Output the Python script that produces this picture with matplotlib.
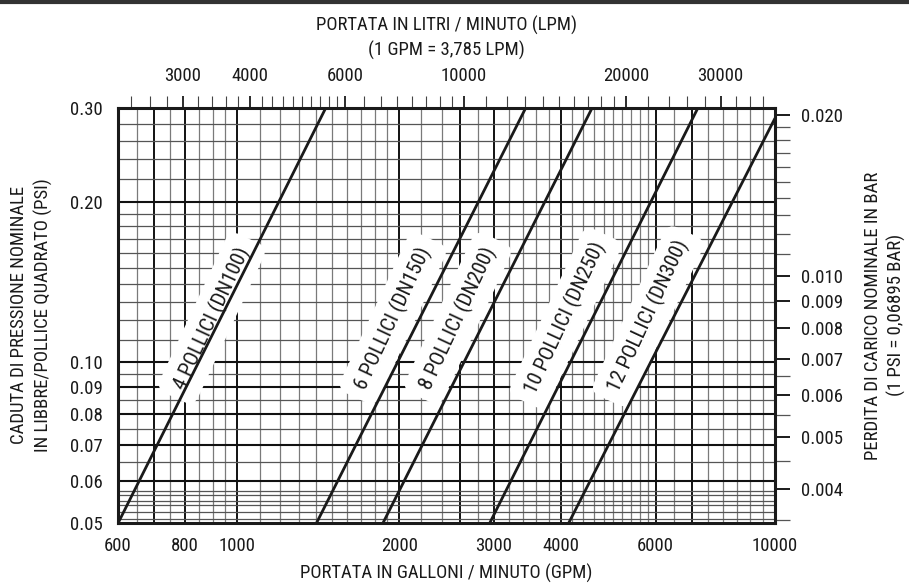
import numpy as np
import matplotlib
matplotlib.use("Agg")
import matplotlib.pyplot as plt
from matplotlib import font_manager
from matplotlib.ticker import FixedLocator, FixedFormatter, NullLocator, NullFormatter
from matplotlib.lines import Line2D

# the original uses a condensed grotesque; take a narrow face if one is installed
narrow = None
for f in font_manager.fontManager.ttflist:
    st = str(f.stretch).lower()
    if ('narrow' in f.name.lower() or 'condensed' in f.name.lower()
            or st in ('condensed', 'semi-condensed', 'extra-condensed', '300', '400')) \
            and 'mono' not in f.name.lower() and 'serif' not in f.name.lower() \
            and f.style == 'normal' and f.weight in (400, 'normal', 'regular'):
        narrow = f
        if 'liberation' in f.name.lower() or 'roboto' in f.name.lower():
            break
if narrow is not None:
    plt.rcParams['font.family'] = [narrow.name, 'DejaVu Sans']
    plt.rcParams['font.stretch'] = narrow.stretch
    FS = 13.5
else:
    plt.rcParams['font.family'] = ['Liberation Sans', 'DejaVu Sans']
    FS = 12.5

# pipe curves: flow (GPM) / pressure drop (PSI) at both ends of each line
pipe_labels = ["4 POLLICI (DN100)", "6 POLLICI (DN150)", "8 POLLICI (DN200)",
               "10 POLLICI (DN250)", "12 POLLICI (DN300)"]
flow_lo = [600, 1403, 1865, 2946, 4131]
flow_hi = [1462, 3442, 4574, 7195, 10000]
dp_lo = [0.05, 0.05, 0.05, 0.05, 0.05]
dp_hi = [0.30, 0.30, 0.30, 0.30, 0.2865]

# where the pipe names sit (GPM, PSI)
label_gpm = [897, 1948, 2572, 4072, 5806]
label_psi = [0.121, 0.121, 0.121, 0.121, 0.122]

# axis ticks
gpm_ticks = [600, 800, 1000, 2000, 3000, 4000, 6000, 10000]
psi_ticks = [0.05, 0.06, 0.07, 0.08, 0.09, 0.10, 0.20, 0.30]
lpm_ticks = [3000, 4000, 6000, 10000, 20000, 30000]
lpm_minor = [2400, 2600, 2800, 3200, 3400, 3600, 3800, 4200, 4400, 4600, 4800,
             5000, 5200, 5400, 5600, 5800, 6500, 7000, 7500, 8000, 8500, 9000,
             9500, 11000, 12000, 13000, 14000, 15000, 16000, 17000, 18000,
             19000, 22000, 24000, 26000, 28000, 32000, 34000, 36000]
bar_ticks = [0.004, 0.005, 0.006, 0.007, 0.008, 0.009, 0.010, 0.020]
bar_minor = [0.0035, 0.0045, 0.0055, 0.0065, 0.011, 0.012, 0.013, 0.014,
             0.015, 0.016, 0.017, 0.018, 0.019]

# grid lines
gpm_grid_bold = [700, 800, 1000, 2000, 2600, 3000, 4000, 6000, 7000]
gpm_grid_thin = [650, 750, 850, 900, 950, 1100, 1200, 1300, 1400, 1500, 1600,
                 1700, 1800, 1900, 2200, 2400, 2800, 3200, 3400, 3600, 3800,
                 4200, 4400, 4600, 4800, 5000, 5200, 5400, 5600, 5800, 6500,
                 7500, 8000, 8500, 9000, 9500]
psi_grid_bold = [0.06, 0.07, 0.08, 0.09, 0.10, 0.20]
psi_grid_thin = [0.051, 0.0525, 0.054, 0.055, 0.0565, 0.0575, 0.065, 0.075,
                 0.085, 0.095, 0.11, 0.12, 0.13, 0.14, 0.15, 0.16, 0.17, 0.18,
                 0.19, 0.22, 0.24, 0.26, 0.28]

fig = plt.figure(figsize=(9.09, 5.83), dpi=100)
ax = fig.add_axes([0.1298, 0.1024, 0.7228, 0.7132])
ax.set_xscale('log')
ax.set_yscale('log')
ax.set_xlim(600, 10000)
ax.set_ylim(0.05, 0.30)

for g in gpm_grid_thin:
    ax.axvline(g, color='#7a7a7a', lw=0.9, zorder=1)
for g in gpm_grid_bold:
    ax.axvline(g, color='#111111', lw=1.4, zorder=1)
for p in psi_grid_thin:
    ax.axhline(p, color='#555555', lw=0.9, zorder=1)
for p in psi_grid_bold:
    ax.axhline(p, color='#111111', lw=1.5, zorder=1)

for i in range(len(pipe_labels)):
    ax.plot([flow_lo[i], flow_hi[i]], [dp_lo[i], dp_hi[i]], color='#1a1a1a',
            lw=2.0, zorder=4, solid_capstyle='butt')
    ax.text(label_gpm[i], label_psi[i], pipe_labels[i], rotation=65,
            rotation_mode='anchor', ha='center', va='center', fontsize=FS + 1.5,
            color='#1a1a1a', zorder=3,
            bbox=dict(boxstyle='round,pad=0.5', fc='white', ec='none'))

for s in ax.spines.values():
    s.set_linewidth(2.2)
    s.set_color('#1a1a1a')
    s.set_zorder(5)

ax.xaxis.set_major_locator(FixedLocator(gpm_ticks))
ax.xaxis.set_major_formatter(FixedFormatter([str(v) for v in gpm_ticks]))
ax.xaxis.set_minor_locator(NullLocator())
ax.xaxis.set_minor_formatter(NullFormatter())
ax.yaxis.set_major_locator(FixedLocator(psi_ticks))
ax.yaxis.set_major_formatter(FixedFormatter(["%.2f" % v for v in psi_ticks]))
ax.yaxis.set_minor_locator(NullLocator())
ax.yaxis.set_minor_formatter(NullFormatter())
ax.tick_params(axis='x', length=0, pad=10, labelsize=FS, colors='#1a1a1a')
ax.tick_params(axis='y', length=0, pad=11, labelsize=FS, colors='#1a1a1a')

ax.set_xlabel("PORTATA IN GALLONI / MINUTO (GPM)", fontsize=FS, labelpad=6,
              color='#1a1a1a')
ax.set_ylabel("CADUTA DI PRESSIONE NOMINALE\nIN LIBBRE/POLLICE QUADRATO (PSI)",
              fontsize=FS, labelpad=12, linespacing=1.4, color='#1a1a1a')

top = ax.secondary_xaxis('top', functions=(lambda q: q * 3.785, lambda l: l / 3.785))
top.xaxis.set_major_locator(FixedLocator(lpm_ticks))
top.xaxis.set_major_formatter(FixedFormatter([str(v) for v in lpm_ticks]))
top.xaxis.set_minor_locator(FixedLocator(lpm_minor))
top.xaxis.set_minor_formatter(NullFormatter())
top.tick_params(which='major', length=9, width=1.3, pad=7, labelsize=FS,
                colors='#1a1a1a')
top.tick_params(which='minor', length=9, width=0.8, color='#444444')
top.spines['top'].set_visible(False)
top.set_xlabel("PORTATA IN LITRI / MINUTO (LPM)\n(1 GPM = 3,785 LPM)",
               fontsize=FS, labelpad=8, linespacing=1.45, color='#1a1a1a')

right = ax.secondary_yaxis('right', functions=(lambda p: p * 0.06895, lambda b: b / 0.06895))
right.yaxis.set_major_locator(FixedLocator(bar_ticks))
right.yaxis.set_major_formatter(FixedFormatter(["%.3f" % v for v in bar_ticks]))
right.yaxis.set_minor_locator(FixedLocator(bar_minor))
right.yaxis.set_minor_formatter(NullFormatter())
right.tick_params(which='major', length=11, width=1.4, pad=8, labelsize=FS,
                  colors='#1a1a1a')
right.tick_params(which='minor', length=11, width=0.9, color='#555555')
right.spines['right'].set_visible(False)
right.set_ylabel("PERDITA DI CARICO NOMINALE IN BAR\n(1 PSI = 0,06895 BAR)",
                 fontsize=FS, labelpad=15, linespacing=1.3, color='#1a1a1a')

fig.add_artist(Line2D([0, 1], [0.997, 0.997], transform=fig.transFigure,
                      color='#333333', lw=3))

fig.savefig("out.png", dpi=100)
